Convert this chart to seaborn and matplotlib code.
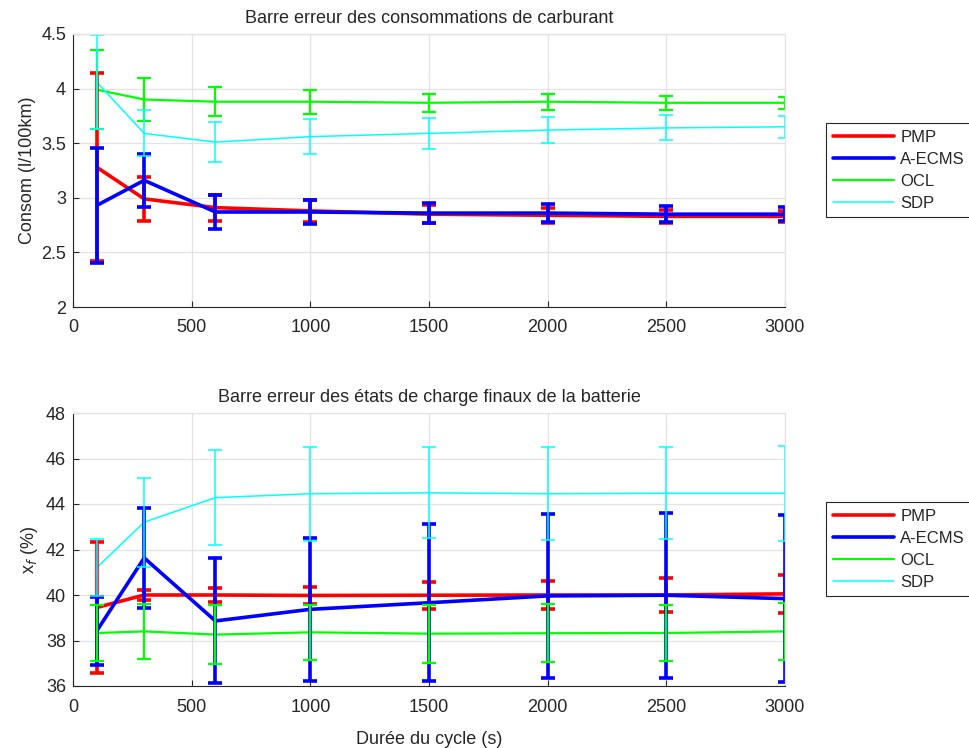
import numpy as np
import pandas as pd
import matplotlib.pyplot as plt
import seaborn as sns

# ---- data ----
duree = [100, 300, 600, 1000, 1500, 2000, 2500, 3000]
methodes = ['PMP', 'A-ECMS', 'OCL', 'SDP']

# fuel consumption (l/100km) and error half-widths
conso_pmp = [3.28, 2.99, 2.91, 2.88, 2.85, 2.84, 2.83, 2.83]
conso_pmp_err = [0.86, 0.20, 0.12, 0.10, 0.08, 0.07, 0.06, 0.05]
conso_ecms = [2.93, 3.16, 2.87, 2.87, 2.86, 2.86, 2.85, 2.85]
conso_ecms_err = [0.53, 0.24, 0.16, 0.11, 0.09, 0.085, 0.075, 0.065]
conso_ocl = [3.99, 3.90, 3.88, 3.88, 3.87, 3.88, 3.87, 3.87]
conso_ocl_err = [0.36, 0.20, 0.135, 0.11, 0.08, 0.075, 0.065, 0.055]
conso_sdp = [4.06, 3.59, 3.51, 3.56, 3.59, 3.62, 3.64, 3.65]
conso_sdp_err = [0.43, 0.21, 0.18, 0.16, 0.14, 0.12, 0.115, 0.10]

# final battery state of charge (%) and error half-widths
soc_pmp = [39.45, 40.0, 40.0, 39.98, 39.99, 40.0, 40.0, 40.05]
soc_pmp_err = [2.89, 0.2, 0.3, 0.38, 0.6, 0.6, 0.73, 0.85]
soc_ecms = [38.42, 41.63, 38.86, 39.37, 39.66, 39.96, 39.99, 39.84]
soc_ecms_err = [1.5, 2.2, 2.75, 3.15, 3.45, 3.6, 3.63, 3.66]
soc_ocl = [38.33, 38.40, 38.26, 38.36, 38.30, 38.32, 38.33, 38.40]
soc_ocl_err = [1.23, 1.22, 1.29, 1.22, 1.28, 1.27, 1.23, 1.24]
soc_sdp = [41.2, 43.2, 44.28, 44.45, 44.49, 44.45, 44.47, 44.47]
soc_sdp_err = [1.25, 1.95, 2.08, 2.07, 2.0, 2.05, 2.03, 2.1]

couleurs = {'PMP': '#FF0000', 'A-ECMS': '#0000FF', 'OCL': '#00FF00', 'SDP': '#00FFFF'}
epaisseurs = {'PMP': 2.6, 'A-ECMS': 2.6, 'OCL': 1.6, 'SDP': 1.1}


def to_frame(series):
    rows = []
    for m, (vals, errs) in series.items():
        for x, v, e in zip(duree, vals, errs):
            rows.append({'duree': x, 'valeur': v, 'err': e, 'methode': m})
    return pd.DataFrame(rows)


df_conso = to_frame({'PMP': (conso_pmp, conso_pmp_err), 'A-ECMS': (conso_ecms, conso_ecms_err),
                     'OCL': (conso_ocl, conso_ocl_err), 'SDP': (conso_sdp, conso_sdp_err)})
df_soc = to_frame({'PMP': (soc_pmp, soc_pmp_err), 'A-ECMS': (soc_ecms, soc_ecms_err),
                   'OCL': (soc_ocl, soc_ocl_err), 'SDP': (soc_sdp, soc_sdp_err)})

sns.set_style('whitegrid')
plt.rcParams['font.family'] = ['Liberation Sans', 'DejaVu Sans']

W, H = 969, 748
fig = plt.figure(figsize=(W / 100, H / 100), dpi=100)
ax1 = fig.add_axes([73 / W, 1 - 307 / H, 712 / W, 273 / H])
ax2 = fig.add_axes([73 / W, 1 - 686 / H, 712 / W, 273 / H])

FS = 13


def draw(ax, df, ylim, yticks, title, ylabel):
    sns.lineplot(data=df, x='duree', y='valeur', hue='methode', size='methode',
                 palette=couleurs, sizes=epaisseurs, hue_order=methodes,
                 size_order=methodes, ax=ax, legend=True, estimator=None)
    for m in methodes:
        d = df[df['methode'] == m]
        lw = epaisseurs[m]
        ax.errorbar(d['duree'], d['valeur'], yerr=d['err'], fmt='none',
                    ecolor=couleurs[m], elinewidth=lw, capsize=5, capthick=lw)
    ax.set_xlim(0, 3000)
    ax.set_ylim(*ylim)
    ax.set_xticks([0, 500, 1000, 1500, 2000, 2500, 3000])
    ax.set_yticks(yticks)
    ax.set_yticklabels([f'{t:g}' for t in yticks])
    ax.grid(True, color='#e3e3e3', linewidth=0.9)
    for s in ['left', 'bottom']:
        ax.spines[s].set_color('#262626')
        ax.spines[s].set_linewidth(0.8)
    for s in ['top', 'right']:
        ax.spines[s].set_color('#e3e3e3')
        ax.spines[s].set_linewidth(0.9)
    ax.tick_params(direction='in', length=4, width=0.8, colors='#262626',
                   labelsize=FS, left=True, bottom=True)
    ax.tick_params(axis='x', pad=9)
    ax.tick_params(axis='y', pad=5)
    ax.set_title(title, fontsize=FS, pad=8)
    ax.set_ylabel(ylabel, fontsize=FS, color='#262626')
    handles, labels = ax.get_legend_handles_labels()
    keep = [(h, l) for h, l in zip(handles, labels) if l in methodes]
    leg = ax.legend([h for h, _ in keep], [l for _, l in keep],
                    loc='upper left', bbox_to_anchor=(1.0576, 0.674), borderaxespad=0,
                    frameon=True, fancybox=False, edgecolor='#262626', framealpha=1,
                    fontsize=12, handlelength=3.7, handletextpad=0.35,
                    labelspacing=0.42, borderpad=0.4)
    leg.get_frame().set_linewidth(0.8)


draw(ax1, df_conso, (2, 4.5), [2, 2.5, 3, 3.5, 4, 4.5],
     'Barre erreur des consommations de carburant', 'Consom (l/100km)')
ax1.set_xlabel('')
draw(ax2, df_soc, (36, 48), [36, 38, 40, 42, 44, 46, 48],
     'Barre erreur des états de charge finaux de la batterie', 'x$_f$ (%)')
ax2.set_xlabel('Durée du cycle (s)', fontsize=FS, color='#262626', labelpad=11)

fig.savefig('out.png', dpi=100)
